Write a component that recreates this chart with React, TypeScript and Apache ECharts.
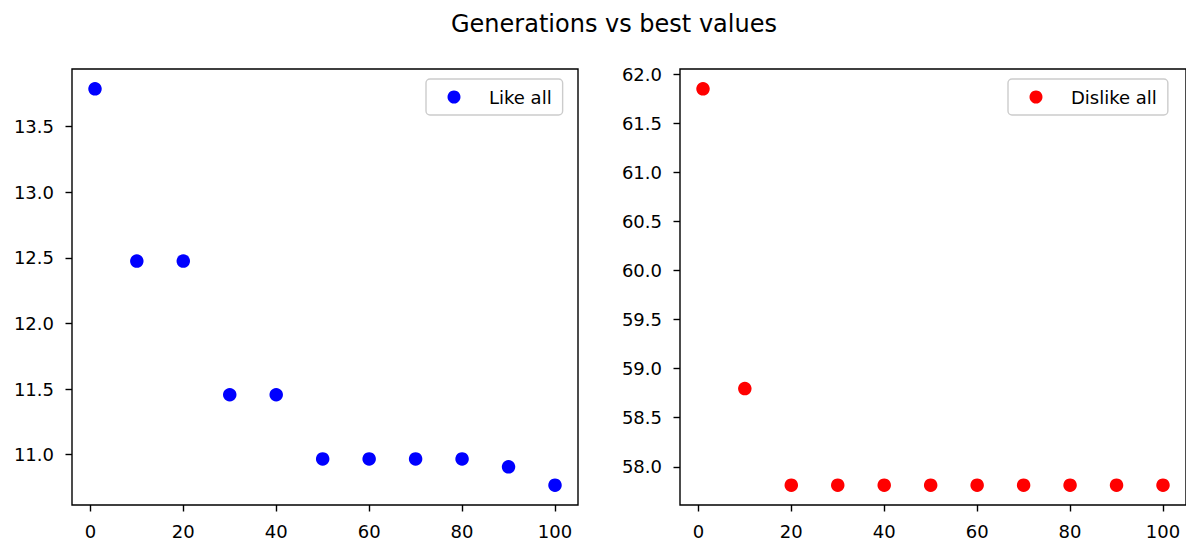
import React, { useEffect, useRef } from "react";
import * as echarts from "echarts";

// Generation numbers at which the best value was recorded
const generations = [1, 10, 20, 30, 40, 50, 60, 70, 80, 90, 100];
// Best value per generation, "Like all" run
const likeAllBest = [13.787, 12.475, 12.475, 11.457, 11.457, 10.968, 10.968, 10.968, 10.968, 10.908, 10.768];
// Best value per generation, "Dislike all" run
const dislikeAllBest = [61.855, 58.797, 57.812, 57.812, 57.812, 57.812, 57.812, 57.812, 57.812, 57.812, 57.812];

const xTicks = [0, 20, 40, 60, 80, 100];
const likeTicks = [11.0, 11.5, 12.0, 12.5, 13.0, 13.5];
const dislikeTicks = [58.0, 58.5, 59.0, 59.5, 60.0, 60.5, 61.0, 61.5, 62.0];

const FONT = "DejaVu Sans";

// data limits widened by 5% on each side
function padded(values: number[]): [number, number] {
  const lo = Math.min(...values);
  const hi = Math.max(...values);
  const m = (hi - lo) * 0.05;
  return [lo - m, hi + m];
}

const tickStyle = { color: "#000", width: 1.4 };

function xAxis(gridIndex: number) {
  const [min, max] = padded(generations);
  return {
    type: "value",
    gridIndex,
    min,
    max,
    splitLine: { show: false },
    axisLine: { show: false, onZero: false },
    axisTick: { show: true, length: 6.5, lineStyle: tickStyle, customValues: xTicks },
    axisLabel: {
      customValues: xTicks,
      margin: 17,
      color: "#000",
      fontFamily: FONT,
      fontSize: 18,
      formatter: (v: number) => String(Math.round(v)),
    },
  };
}

function yAxis(gridIndex: number, values: number[], ticks: number[]) {
  const [min, max] = padded(values);
  return {
    type: "value",
    gridIndex,
    min,
    max,
    splitLine: { show: false },
    axisLine: { show: false, onZero: false },
    axisTick: { show: true, length: 6.5, lineStyle: tickStyle, customValues: ticks },
    axisLabel: {
      customValues: ticks,
      margin: 18,
      color: "#000",
      fontFamily: FONT,
      fontSize: 18,
      formatter: (v: number) => v.toFixed(1),
    },
  };
}

function legend(name: string, left: number) {
  return {
    data: [name],
    left,
    top: 79,
    orient: "vertical",
    icon: "circle",
    itemWidth: 13,
    itemHeight: 13,
    padding: [8, 11, 8, 21.5],
    backgroundColor: "rgba(255,255,255,0.8)",
    borderColor: "#cccccc",
    borderWidth: 1.4,
    borderRadius: 4,
    selectedMode: false,
    textStyle: {
      color: "#000",
      fontFamily: FONT,
      fontSize: 18,
      lineHeight: 20,
      padding: [0, 0, 0, 23.5],
    },
  };
}

export default function App() {
  const ref = useRef<HTMLDivElement>(null);

  useEffect(() => {
    if (!ref.current) return;
    const chart = echarts.init(ref.current, undefined, { renderer: "svg" });
    chart.setOption({
      animation: false,
      backgroundColor: "#ffffff",
      title: {
        text: "Generations vs best values",
        left: 446,
        top: 7,
        textStyle: { color: "#000", fontFamily: FONT, fontSize: 24, fontWeight: "normal" },
      },
      legend: [legend("Like all", 426), legend("Dislike all", 1008)],
      grid: [
        { left: 72, top: 69, width: 506, height: 437.7, show: true, borderColor: "#000", borderWidth: 1.4, backgroundColor: "transparent" },
        { left: 680, top: 69, width: 507, height: 437.7, show: true, borderColor: "#000", borderWidth: 1.4, backgroundColor: "transparent" },
      ],
      xAxis: [xAxis(0), xAxis(1)],
      yAxis: [yAxis(0, likeAllBest, likeTicks), yAxis(1, dislikeAllBest, dislikeTicks)],
      series: [
        {
          name: "Like all",
          type: "scatter",
          xAxisIndex: 0,
          yAxisIndex: 0,
          symbol: "circle",
          symbolSize: 13.5,
          itemStyle: { color: "#0000ff", opacity: 1 },
          data: generations.map((g, i) => [g, likeAllBest[i]]),
        },
        {
          name: "Dislike all",
          type: "scatter",
          xAxisIndex: 1,
          yAxisIndex: 1,
          symbol: "circle",
          symbolSize: 13.5,
          itemStyle: { color: "#ff0000", opacity: 1 },
          data: generations.map((g, i) => [g, dislikeAllBest[i]]),
        },
      ],
    });
    return () => chart.dispose();
  }, []);

  return (
    <div
      ref={ref}
      style={{ position: "fixed", left: 0, top: 0, width: 1186, height: 540, background: "#fff" }}
    />
  );
}
